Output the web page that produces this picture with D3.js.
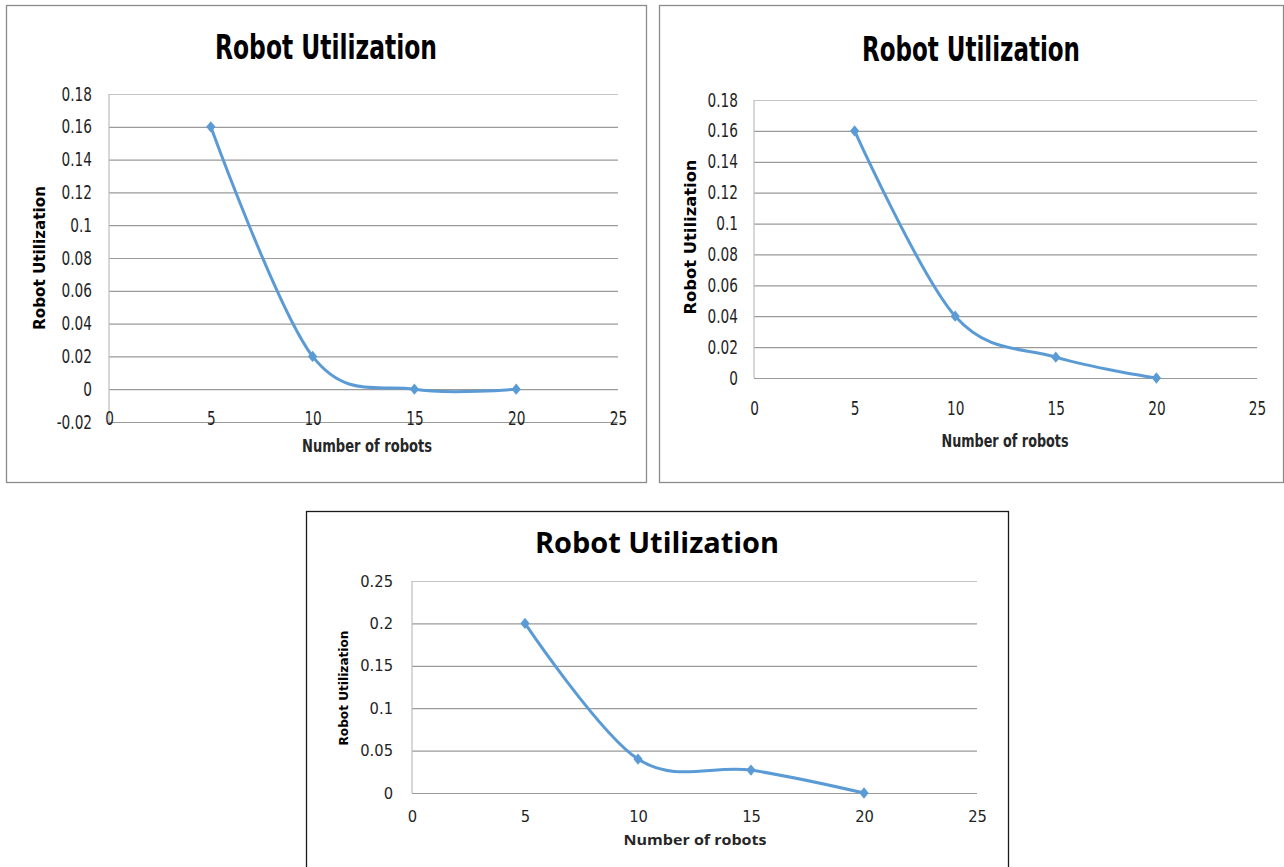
<!DOCTYPE html>
<html>
<head>
<meta charset="utf-8">
<script src="https://cdn.jsdelivr.net/npm/d3@7"></script>
<style>
  body { margin: 0; background: #fff; }
  svg { display: block; }
</style>
</head>
<body>
<div id="chart"></div>
<script>
// data
const robots = [5, 10, 15, 20];
const xTicks = [0, 5, 10, 15, 20, 25];

const util1 = [0.16, 0.02, 0, 0];
const util2 = [0.16, 0.04, 0.0135, 0];
const util3 = [0.2, 0.04, 0.027, 0];

const yTicks1 = [-0.02, 0, 0.02, 0.04, 0.06, 0.08, 0.1, 0.12, 0.14, 0.16, 0.18];
const yTicks2 = [0, 0.02, 0.04, 0.06, 0.08, 0.1, 0.12, 0.14, 0.16, 0.18];
const yTicks3 = [0, 0.05, 0.1, 0.15, 0.2, 0.25];

const chartTitle = "Robot Utilization";
const xTitle = "Number of robots";
const yTitle = "Robot Utilization";

const narrow = "'Liberation Sans Narrow', 'DejaVu Sans Condensed', sans-serif";
const wide = "'DejaVu Sans', Verdana, sans-serif";

// layout of the three panels
const panels = [
  {values: util1, ticks: yTicks1, box: [6, 5, 646, 482], x0: 109, x1: 618, yTop: 94, yBot: 422,
   xLabY: 418, pad: 17, tickFont: narrow, tickSize: 19, squeeze: 0.8,
   title: {x: 326, y: 47, len: 222, size: 34, font: narrow},
   yt: {x: 40, y: 258, len: 144, size: 15},
   xt: {x: 367, y: 446, len: 130, size: 18, font: narrow},
   border: "#8c8c8c"},
  {values: util2, ticks: yTicks2, box: [659, 5, 1283, 482], x0: 754, x1: 1257, yTop: 100, yBot: 378,
   xLabY: 408, pad: 16, tickFont: narrow, tickSize: 19, squeeze: 0.8,
   title: {x: 971, y: 49, len: 218, size: 34, font: narrow},
   yt: {x: 691, y: 237, len: 155, size: 15},
   xt: {x: 1005, y: 441, len: 127, size: 18, font: narrow},
   border: "#8c8c8c"},
  {values: util3, ticks: yTicks3, box: [306, 511, 1008, 900], x0: 412, x1: 977, yTop: 581, yBot: 793,
   xLabY: 816, pad: 19, tickFont: wide, tickSize: 16, squeeze: 0.92,
   title: {x: 657, y: 543, len: 244, size: 28, font: "'Open Sans', sans-serif"},
   yt: {x: 343, y: 688, len: 115, size: 13},
   xt: {x: 695, y: 840, len: 143, size: 15, font: "'Open Sans', sans-serif"},
   border: "#1a1a1a"}
];

const svg = d3.select("#chart")
  .append("svg")
    .attr("width", 1284)
    .attr("height", 867);

panels.forEach(p => {
  const g = svg.append("g");
  const [bx0, by0, bx1, by1] = p.box;

  g.append("rect")
    .attr("x", bx0 + 0.5).attr("y", by0 + 0.5)
    .attr("width", bx1 - bx0).attr("height", by1 - by0)
    .attr("fill", "#fff")
    .attr("stroke", p.border)
    .attr("stroke-width", 1.3);

  const x = d3.scaleLinear()
    .domain([0, 25])
    .range([p.x0, p.x1]);

  const y = d3.scaleLinear()
    .domain([p.ticks[0], p.ticks[p.ticks.length - 1]])
    .range([p.yBot, p.yTop]);

  // y axis with gridlines
  const ya = g.append("g")
    .attr("transform", `translate(${p.x0},0)`)
    .call(d3.axisLeft(y)
      .tickValues(p.ticks)
      .tickSize(-(p.x1 - p.x0))
      .tickPadding(p.pad)
      .tickFormat(d => String(d)));
  ya.select(".domain").remove();
  ya.selectAll("line")
    .attr("stroke", (d, i) => i === p.ticks.length - 1 ? "#c4c4c4" : "#9a9a9a")
    .attr("stroke-width", 1.2);
  // squeeze the digits horizontally to get the narrow look
  ya.selectAll("text")
    .attr("x", -p.pad / p.squeeze)
    .attr("transform", `scale(${p.squeeze},1)`)
    .attr("font-family", p.tickFont)
    .attr("font-size", p.tickSize)
    .attr("fill", "#1f1f1f");

  // vertical axis line
  g.append("line")
    .attr("x1", p.x0).attr("x2", p.x0)
    .attr("y1", y.range()[1]).attr("y2", y.range()[0])
    .attr("stroke", "#bdbdbd")
    .attr("stroke-width", 1.2);

  // x axis labels
  const xa = g.append("g")
    .attr("transform", `translate(0,${p.xLabY})`)
    .call(d3.axisBottom(x).tickValues(xTicks).tickSize(0).tickPadding(0));
  xa.select(".domain").remove();
  xa.selectAll("text")
    .attr("y", 0)
    .attr("dy", "0.36em")
    .attr("transform", `scale(${p.squeeze},1)`)
    .attr("font-family", p.tickFont)
    .attr("font-size", p.tickSize)
    .attr("fill", "#1f1f1f");

  // smoothed line
  const pts = robots.map((r, i) => [r, p.values[i]]);
  g.append("path")
    .datum(pts)
    .attr("fill", "none")
    .attr("stroke", "#5b9bd5")
    .attr("stroke-width", 3)
    .attr("stroke-linejoin", "round")
    .attr("d", d3.line()
      .x(d => x(d[0]))
      .y(d => y(d[1]))
      .curve(d3.curveCardinal.tension(0)));

  g.selectAll("path.mark")
    .data(pts)
    .join("path")
      .attr("class", "mark")
      .attr("d", d3.symbol(d3.symbolSquare, 48)())
      .attr("transform", d => `translate(${x(d[0])},${y(d[1])}) scale(0.95,1.15) rotate(45)`)
      .attr("fill", "#5b9bd5");

  // titles
  g.append("text")
    .attr("x", p.title.x).attr("y", p.title.y)
    .attr("dy", "0.36em")
    .attr("text-anchor", "middle")
    .attr("font-family", p.title.font)
    .attr("font-weight", "bold")
    .attr("font-size", p.title.size)
    .attr("textLength", p.title.len)
    .attr("lengthAdjust", "spacingAndGlyphs")
    .text(chartTitle);

  g.append("text")
    .attr("transform", `translate(${p.yt.x},${p.yt.y}) rotate(-90)`)
    .attr("dy", "0.36em")
    .attr("text-anchor", "middle")
    .attr("font-family", wide)
    .attr("font-weight", "bold")
    .attr("font-size", p.yt.size)
    .attr("textLength", p.yt.len)
    .attr("lengthAdjust", "spacingAndGlyphs")
    .text(yTitle);

  g.append("text")
    .attr("x", p.xt.x).attr("y", p.xt.y)
    .attr("dy", "0.36em")
    .attr("text-anchor", "middle")
    .attr("font-family", p.xt.font)
    .attr("font-weight", "bold")
    .attr("font-size", p.xt.size)
    .attr("textLength", p.xt.len)
    .attr("lengthAdjust", "spacingAndGlyphs")
    .attr("fill", "#262626")
    .text(xTitle);
});
</script>
</body>
</html>
